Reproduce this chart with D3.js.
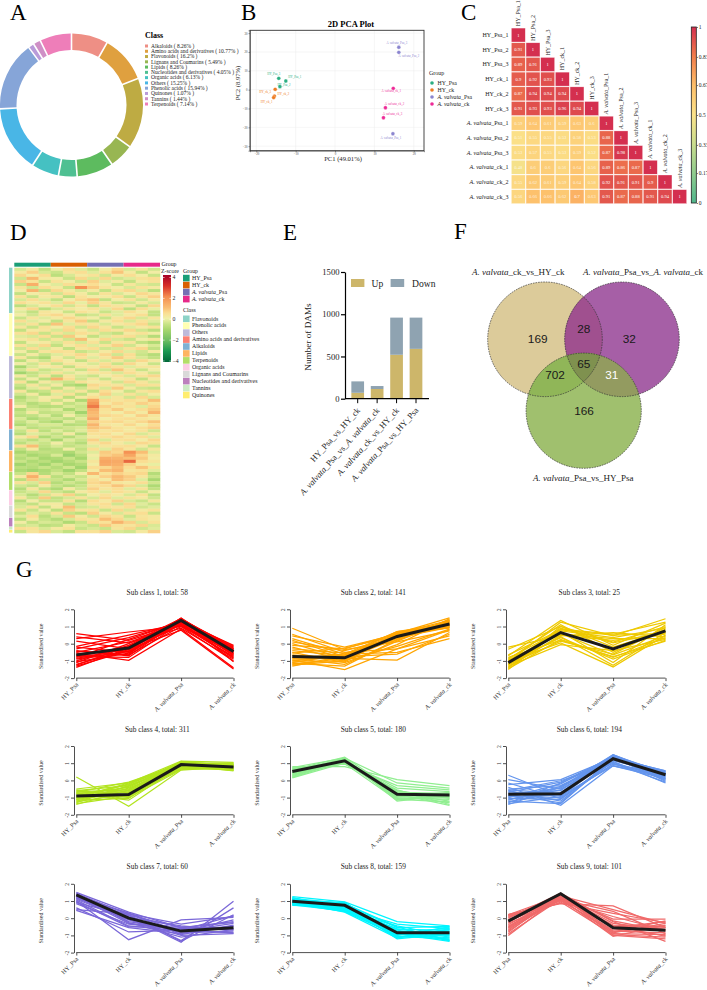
<!DOCTYPE html>
<html>
<head>
<meta charset="utf-8">
<script src="https://cdn.jsdelivr.net/npm/d3@7"></script>
<style>
html,body{margin:0;padding:0;background:#fff}
svg{display:block;font-family:"Liberation Serif",serif}
</style>
</head>
<body>
<svg id="fig" width="707" height="990"></svg>
<script>
// ---- Panel A: metabolite classes ----
const classNames = ["Alkaloids","Amino acids and derivatives","Flavonoids","Lignans and Coumarins","Lipids","Nucleotides and derivatives","Organic acids","Others","Phenolic acids","Quinones","Tannins","Terpenoids"];
const classShares = [8.26,10.77,16.2,5.49,8.26,4.05,6.13,15.25,15.94,1.07,1.44,7.14];
const classColors = ["#EE8F85","#DFA03F","#BEAB43","#98B652","#5DBB5F","#4FC092","#45C1C2","#49B6E6","#86A5D8","#B99BD9","#CF8FC6","#EE7EB9"];

// ---- Panel B: PCA scores ----
const pcaGroups = ["HY_Psa","HY_ck","A. valvata_Psa","A. valvata_ck"];
const pcaColors = ["#2BAE82","#EE7B22","#8B85CF","#EE2A97"];
const pcaIds = ["HY_Psa_3","HY_Psa_1","HY_Psa_2","HY_ck_3","HY_ck_2","HY_ck_1","A. valvata_Psa_3","A. valvata_Psa_2","A. valvata_Psa_1","A. valvata_ck_1","A. valvata_ck_2","A. valvata_ck_3"];
const pcaGroupOf = [0,0,0,1,1,1,2,2,2,3,3,3];
const pc1 = [-14.3,-12.5,-14.0,-15.2,-15.4,-15.6,16.2,16.2,14.7,14.8,12.8,12.3];
const pc2 = [6.0,4.6,1.6,0.2,-3.4,-4.2,22.5,19.8,-23.4,0.7,-9.6,-14.9];

// ---- Panel C: sample correlation (lower triangle) ----
const sampleNames = ["HY_Psa_1","HY_Psa_2","HY_Psa_3","HY_ck_1","HY_ck_2","HY_ck_3","A. valvata_Psa_1","A. valvata_Psa_2","A. valvata_Psa_3","A. valvata_ck_1","A. valvata_ck_2","A. valvata_ck_3"];
const corrRows = [
 [1],
 [0.91,1],
 [0.89,0.91,1],
 [0.9,0.92,0.93,1],
 [0.87,0.94,0.94,0.94,1],
 [0.91,0.93,0.93,0.96,0.94,1],
 [0.59,0.64,0.61,0.59,0.63,0.6,1],
 [0.51,0.55,0.55,0.53,0.58,0.53,0.88,1],
 [0.53,0.57,0.55,0.53,0.59,0.52,0.87,0.98,1],
 [0.48,0.6,0.6,0.56,0.64,0.56,0.89,0.86,0.87,1],
 [0.55,0.62,0.61,0.59,0.64,0.58,0.92,0.91,0.91,0.9,1],
 [0.56,0.66,0.66,0.62,0.7,0.63,0.91,0.87,0.88,0.91,0.94,1]
];
const corrTicks = [0,0.17,0.33,0.5,0.67,0.83,1];

// ---- Panel D: z-scores, one array per metabolite class ----
const heatGroups = ["HY_Psa","HY_ck","A. valvata_Psa","A. valvata_ck"];
const heatGroupColors = ["#1B9E77","#D95F02","#7570B3","#E7298A"];
const heatClassNames = ["Flavonoids","Phenolic acids","Others","Amino acids and derivatives","Alkaloids","Lipids","Terpenoids","Organic acids","Lignans and Coumarins","Nucleotides and derivatives","Tannins","Quinones"];
const heatClassColors = ["#8DD3C7","#FFFFB3","#BEBADA","#FB8072","#80B1D3","#FDB462","#B3DE69","#FCCDE5","#D9D9D9","#BC80BD","#CCEBC5","#FFED6F"];
const heatFlavonoids = [
 [-.3,.2,-.6,.1,.5,-.2,-.5,.1,.6,-.3,.3,-.4],
 [.2,.7,-.3,-.5,.3,.5,-.2,.4,.9,.2,-.6,.1],
 [.6,.1,.5,-.7,-.3,.2,.4,-.4,.2,.5,.1,-.5],
 [-.4,1.1,.2,.1,-.5,.6,-.3,.6,-.4,-.2,.4,.5],
 [.7,.4,-.5,.4,.1,-.4,.7,-.2,.2,-.6,.2,.4],
 [-.5,1.3,.1,-.2,.5,.3,.5,.1,-.5,.3,-.3,-.4],
 [.3,-.4,.5,.2,-.5,1.9,.8,.3,.1,-.3,.4,.2],
 [.1,1.2,-.6,.6,.2,-.3,.2,-.6,.4,.6,-.2,-.7],
 [-.6,.1,.3,-.4,.5,.2,-.5,.4,-.3,.1,.6,.3],
 [.4,-.5,.2,.3,-.7,.4,.1,.2,.5,-.5,.3,.7],
 [-.3,.5,-.2,-.6,.1,.6,.9,-.6,.1,.4,-.4,.2],
 [.5,.2,.4,-.2,.6,-.1,.7,.3,-.5,-.4,.2,-.3],
 [-.7,-.3,.1,.5,-.4,.3,-.6,.5,.3,.2,-.6,.6],
 [.2,.6,-.7,-.3,.3,.1,.4,-.2,.6,-.7,.5,-.1],
 [-.2,-.6,.3,.1,-.5,.4,.2,-.5,-.2,.5,.1,-.6]
];
const heatPhenolic = [
 [.1,-.4,.4,.6,.2,-.6,-.4,.4,-.2,.2,.5,-.6],
 [-.5,.3,-.2,.2,.6,.3,.1,-.5,.3,.6,-.3,.3],
 [.5,-.2,.1,-.6,.3,.8,-.6,.2,.5,-.3,.4,-.2],
 [-.3,.4,-.6,.9,-.2,.4,.3,-.3,.2,.4,.6,-.5],
 [.3,-.5,.4,.1,.5,-.4,.6,.3,-.5,-.2,.2,.4],
 [-.6,.2,.3,-.3,.6,.2,-.3,.5,.3,.6,-.4,-.7],
 [.4,.6,-.5,.4,-.3,.5,.3,-.4,-.6,.2,.4,.1],
 [-.2,-.3,.5,-.5,.8,.1,-.6,-.2,.4,.5,-.3,-.8],
 [.2,.4,-.4,.3,-.4,1.0,.1,.6,-.3,-.5,.1,.3],
 [-.6,.1,.2,-.3,.4,-.3,.4,-.5,.3,.3,-.6,-.9],
 [.4,-.3,.6,-.6,.2,.5,-.2,.3,.7,-.4,.1,-.3],
 [-.4,.5,-.3,.2,-.6,.3,.5,-.4,-.3,.4,.6,-.6],
 [.1,-.6,.3,.5,.4,-.5,-.3,.2,.6,-.2,-.4,.2],
 [-.5,.2,-.5,-.2,.3,.6,.2,.6,-.4,.5,-.5,-.8]
];
const heatOthers = [
 [.3,-.6,-.9,.2,-.4,.4,-.2,.3,.8,.4,-.3,-.6],
 [-.7,.2,-.4,.5,.1,-.6,.4,-.3,.3,-.4,.6,.2],
 [.1,-.4,.4,-.5,.3,.2,-.3,.5,-.5,.6,.1,-.5],
 [-1.0,-.3,.1,.3,-.6,.3,.2,.6,.4,-.2,.3,.3],
 [-.4,.4,-.5,-.3,.2,-.5,.6,-.4,.9,.3,-.5,.1],
 [-1.1,-.6,-.3,.4,-.3,.1,.3,.3,-.3,.5,.2,-.4],
 [.2,-.5,.3,-.7,.3,-.3,-.5,.1,.4,-.3,.4,.6],
 [-.6,.1,-.7,1.2,.5,-.4,.3,-.5,.2,.3,-.6,.2],
 [.4,-.8,.2,-.3,-.5,.4,.1,.3,-.4,.6,.3,-.3],
 [-.5,.3,-.4,.2,-.8,-1.0,.6,.4,.3,-.3,.5,.4],
 [-.8,-.2,.3,-.6,.2,-.4,.4,-.3,.8,.2,-.4,-.5],
 [.3,-.7,-.5,.4,-.3,.3,-.6,.5,.1,-.5,.3,.5],
 [-.4,.2,-.8,-.2,.4,-.6,.2,.7,-.2,.4,-.3,.1],
 [-.9,-.4,.1,.3,-.7,.2,.5,-.2,.3,-.4,.6,-.3]
];
const heatAmino = [
 [-.6,-.3,.2,-.5,.1,-.9,1.5,.5,.3,.5,.3,1.0],
 [-.4,-.8,-.5,.2,-.6,-.3,1.8,.2,.6,.3,.7,.4],
 [.1,-.6,-.8,-.7,-.3,-.5,2.2,.7,.3,.4,-.2,.6],
 [-.8,-.3,-.4,-.2,-.9,-.4,1.3,.4,.8,.2,.5,.8],
 [-.5,.2,-.6,-.5,-.3,-1.1,1.1,.3,.1,.6,.2,1.2],
 [-.7,-.6,-.2,-.8,.1,-.5,1.0,.6,.5,.1,.7,.3],
 [-.3,-.9,-.6,-.4,-.7,-.2,1.4,.1,.4,.5,.3,.2],
 [-.6,-.2,-.7,-1.0,-.2,-.6,.7,.5,.6,.3,.6,.9],
 [-.9,-.5,-.3,-.3,-.8,-.7,1.2,.3,.2,.6,.1,.5],
 [-.2,-.7,-.5,-.6,-.4,-.3,.9,.7,.4,.2,.5,.7]
];
const heatAlkaloids = [
 [-.5,.4,-.7,-.2,-.6,-.2,.6,.3,.5,.2,.4,-.4],
 [-.8,-.2,-.3,-.6,.2,-.8,.4,.5,.1,.6,-.3,.3],
 [.2,.6,-.9,-.4,-.8,-.3,.2,.4,.6,.3,.5,-.2],
 [-.4,-.7,-.3,-1.0,-.2,-.5,.7,-.3,.4,.5,.1,.6],
 [-.7,-.3,-.5,.1,-.5,-.8,.3,.6,.2,-.2,.6,.4],
 [.5,1.0,-.6,-.3,-.6,-.4,-.2,.3,.4,.5,.2,-.5],
 [-.6,.2,-.8,-.7,.1,-.6,.5,-.2,.7,.3,-.4,.3]
];
const heatLipids = [
 [-1.0,-.7,-.6,-.7,-.9,-.4,-.2,.8,.6,1.9,1.0,-.2],
 [-.6,-1.0,-.8,-.3,-1.2,-.7,.1,.7,.9,1.5,.6,.2],
 [-.8,-.5,-1.0,-.9,-.5,-1.0,-.1,1.3,1.2,1.0,.8,.1],
 [-.5,-.9,-.7,-1.1,-.8,-.5,.3,1.5,1.4,2.4,.5,.3],
 [-1.1,-.7,-1.1,-.5,-1.0,-.8,.1,1.4,1.3,.7,.2,-.1],
 [-.7,-.8,-.5,-.8,-.4,-1.1,.5,.6,1.0,.5,.9,.4],
 [-.9,-1.1,-.9,-.6,-1.1,-.6,.2,1.0,1.2,.3,.4,-.2]
];
const heatTerpenoids = [
 [-.5,.6,-.8,-.3,-.6,.1,1.1,.4,.7,.5,.6,-.8],
 [.2,1.3,.4,-.7,-.3,-.5,.2,.7,1.1,.8,.3,-.5],
 [-.7,.8,-.4,-.5,-.9,-.3,.5,.2,1.0,.7,-.2,-1.0],
 [.4,-.3,.7,-.8,-.4,-.7,.6,.8,.3,.2,.5,-.4],
 [-.4,-.6,.2,-.5,-.8,-.5,.4,.5,.9,.6,-.3,-.9],
 [-.8,.3,-.6,-.9,.2,-.4,.7,.3,.5,-.2,.4,-.6]
];
const heatOrganic = [
 [-.5,-.3,.6,-.4,-.7,.2,.4,-.2,.5,.3,-.5,.1],
 [-.3,-.8,-.4,.3,.7,-.5,.1,.4,.2,-.3,.4,-.6],
 [.3,-.5,.8,-.6,-.3,.4,-.3,.6,-.2,.4,.2,-.4],
 [-.8,.1,-.5,-.5,.4,-.8,.5,.2,.7,-.3,-.5,.3],
 [-.4,-.6,.2,.2,-.5,-.3,.3,.5,-.4,.6,-.2,-.5]
];
const heatLignans = [
 [-.3,.4,-.6,.2,1.0,-.4,-.3,.4,.3,.5,-.4,-.2],
 [.4,-.5,.1,-.7,.7,.3,.4,-.5,.6,-.3,.2,.4],
 [-.6,-.2,-.4,.4,-.5,-.7,.7,.2,-.3,.4,.5,-.5],
 [-.2,.5,-.7,-.3,.8,.2,-.4,.6,.4,-.5,.3,.2]
];
const heatNucleotides = [
 [-.7,.2,-.5,-.8,-.3,.4,.3,1.0,.6,-.2,.4,.2],
 [.1,-.6,-.3,-.4,-.9,-.5,.5,.4,1.2,.7,-.3,.4],
 [-.4,-.3,-.7,-.6,.2,-.3,-.5,.8,.4,.3,.6,-.3]
];
const heatTannins = [[.5,.4,-.3,.2,.4,-.5,-.3,-.5,.3,.6,-.4,-.2]];
const heatQuinones = [[-.5,.3,.6,-.3,-.6,.4,.4,.7,-.3,-.4,.2,.7]];
const heatByClass = [heatFlavonoids,heatPhenolic,heatOthers,heatAmino,heatAlkaloids,heatLipids,heatTerpenoids,heatOrganic,heatLignans,heatNucleotides,heatTannins,heatQuinones];
const zTicks = [-4,-2,0,2,4];

// ---- Panel E: differential metabolites ----
const comparisons = ["HY_Psa_vs_HY_ck","A. valvata_Psa_vs_A. valvata_ck","A. valvata_ck_vs_HY_ck","A. valvata_Psa_vs_HY_Psa"];
const damUp = [70,115,520,590];
const damDown = [135,35,440,370];
const damTicks = [0,500,1000,1500];

// ---- Panel F: overlap counts ----
const vennSets = ["A. valvata_ck_vs_HY_ck","A. valvata_Psa_vs_A. valvata_ck","A. valvata_Psa_vs_HY_Psa"];
const vennCounts = [169,32,166,28,702,31,65];

// ---- Panel G: K-means profiles per sub class ----
const profileGroups = ["HY_Psa","HY_ck","A. valvata_Psa","A. valvata_ck"];
const subTotals = [58,141,25,311,180,194,60,159,101];
const subColors = ["#FF0000","#FFA500","#EEC900","#B2E41E","#90EE90","#6495ED","#7A67D8","#00F5FF","#F06A6A"];
const subMeans = [
 [-0.65,-0.25,1.35,-0.45],
 [-0.75,-0.82,0.42,1.15],
 [-1.1,0.65,-0.3,0.75],
 [-0.9,-0.82,0.92,0.78],
 [0.52,1.14,-0.8,-0.85],
 [-0.8,-0.78,1.26,0.33],
 [1.35,0,-0.75,-0.55],
 [0.98,0.75,-0.85,-0.85],
 [-0.17,1.42,-0.55,-0.7]
];
const subClass1 = [
 [0.58,0.2,1.1,-0.6],[0.4,0.05,0.9,-0.9],[0.3,0.68,1.0,-0.5],[0.15,-0.3,0.78,-1.47],[-0.15,0.5,1.2,-0.3],[-0.2,-0.5,1.3,-0.1],
 [-0.3,0.35,1.25,-0.2],[-0.4,-0.7,1.4,-0.4],[-0.5,0.1,1.05,-0.75],[-0.55,-0.97,0.85,-1.4],[-0.65,-0.2,1.45,-0.25],[-0.7,-0.6,1.5,-0.5],
 [-0.8,0.25,1.3,-0.35],[-0.85,-0.3,1.35,-0.7],[-0.9,-0.45,1.15,-0.6],[-1.0,-0.1,1.4,-0.15],[-1.05,-0.55,1.25,-0.55],[-1.1,0,1.45,-0.3],
 [-1.2,-0.35,1.3,-0.65],[-1.25,-0.15,1.35,-0.45],[-1.3,-0.4,1.1,-0.85],[-1.38,-0.25,1.48,-1.05],[-0.75,-0.8,1.2,-0.8],[-0.45,-0.65,1.0,-1.0]
];
const subClass2 = [
 [0.9,-0.35,0.1,0.75],[0.55,-0.5,-0.3,0.45],[0.45,-0.2,0.55,1.2],[0.3,-0.6,-0.5,0.3],[0.2,-0.75,-0.6,0.55],[0.1,-0.4,0.35,0.95],
 [0,-0.85,-0.95,0.65],[-0.1,-0.3,0.6,1.1],[-0.2,-0.95,-0.15,0.85],[-0.3,-0.55,0.2,1.3],[-0.4,-0.7,0.7,1.05],[-0.5,-1.1,-0.05,1.45],
 [-0.55,-0.25,0.45,1.0],[-0.65,-0.9,0.3,1.25],[-0.7,-1.0,0.65,0.9],[-0.8,-0.65,0.5,1.15],[-0.85,-1.2,0.15,1.35],[-0.9,-0.8,0.6,1.5],
 [-0.95,-1.5,-0.3,0.8],[-1.0,-0.75,0.4,1.3],[-1.05,-1.05,0.55,1.1],[-1.1,-0.6,0.7,1.2],[-1.15,-1.3,0.25,1.4],[-1.2,-0.85,0.45,0.95],[-1.25,-1.0,0.6,1.35],[-1.3,-0.7,0.35,1.0]
];
const subClass3 = [
 [-0.2,0.45,0.65,0.4],[-0.32,1.0,0.1,1.0],[-0.65,0.8,0.5,0.6],[-0.7,1.35,-0.1,1.2],[-0.8,0.2,-0.75,0.15],[-0.9,1.1,-0.5,0.85],
 [-0.95,0.55,0.3,0.3],[-1.0,0.05,-1.35,0.5],[-1.05,1.25,0.45,1.45],[-1.1,0.35,-0.9,0.2],[-1.15,0.9,0.05,0.7],[-1.2,0.15,-0.6,0.95],
 [-1.25,0.7,-1.1,1.1],[-1.3,-0.05,-0.4,0.25],[-1.35,0.5,0.2,0.55],[-1.4,1.0,-0.2,0.75],[-1.45,0.25,-0.8,0.35],[-1.5,0.85,0.55,1.25],
 [-1.0,0.6,-0.65,0.45],[-1.22,0.4,-1.25,0.65],[-0.85,0.75,0.35,0.9]
];
const subClass4 = [
 [0.2,-1.5,0.6,0.8],[-0.5,-0.15,1.12,1.05],[-0.6,-0.3,0.8,0.65],[-0.65,-0.55,1.05,0.9],[-0.7,-0.1,0.95,0.75],[-0.75,-1.15,0.85,0.6],
 [-0.8,-0.4,1.0,1.0],[-0.85,-0.7,0.7,0.7],[-0.9,-0.25,1.08,0.85],[-0.95,-0.95,0.9,0.55],[-1.0,-0.5,0.75,0.95],[-1.02,-0.2,1.0,0.8],
 [-1.05,-0.8,0.65,0.65],[-1.1,-0.35,1.05,0.9],[-1.12,-0.6,0.85,0.75],[-1.15,-1.05,0.95,0.6],[-1.2,-0.45,0.8,1.0],[-1.25,-0.75,1.1,0.7],
 [-1.3,-0.3,0.9,0.85],[-1.35,-0.9,0.7,0.8],[-1.4,-0.55,1.0,0.65],[-0.55,-1.0,0.62,0.9],[-0.72,-0.65,0.78,0.58],[-0.98,-0.15,0.88,0.95]
];
const subClass5 = [
 [0.8,0.8,0.05,-0.3],[0.75,1.3,-0.15,-0.45],[0.72,0.95,-0.3,-0.55],[0.68,1.1,-0.45,-0.65],[0.62,1.35,-0.7,-0.75],[0.58,1.0,-0.55,-1.4],
 [0.55,1.2,-0.9,-0.9],[0.5,1.28,-1.05,-1.0],[0.46,1.1,-0.75,-1.2],[0.42,0.98,-1.15,-0.8],[0.38,1.25,-0.85,-1.3],[0.34,1.15,-0.65,-0.95],
 [0.3,1.05,-1.0,-1.1],[0.26,1.3,-1.2,-0.85],[0.22,1.18,-0.8,-1.45],[0.18,1.12,-0.95,-0.7],[0.15,1.02,-0.6,-1.05],[0.6,1.22,-1.1,-1.25]
];
const subClass6 = [
 [0.3,-0.9,0.85,0.2],[0.05,-0.5,1.0,-0.1],[-0.15,-1.05,0.95,0.4],[-0.25,0.05,1.3,0.55],[-0.4,-1.45,0.85,0.1],[-0.5,-0.3,1.2,0.3],
 [-0.55,-0.75,1.45,0.45],[-0.62,-1.2,1.1,-0.15],[-0.7,-0.1,1.35,0.5],[-0.75,-0.6,1.5,0.25],[-0.82,-1.3,1.25,0.35],[-0.88,-0.45,1.4,0.15],
 [-0.95,-0.85,1.3,0.55],[-1.0,-0.2,1.42,0.05],[-1.05,-1.1,1.15,0.4],[-1.1,-0.55,1.38,0.2],[-1.15,-0.35,1.25,0.5],[-1.2,-1.35,1.32,0],
 [-1.25,-0.7,1.45,0.3],[-1.3,-0.15,1.2,0.45],[-1.35,-0.95,1.35,-0.05],[-1.4,-0.4,1.5,0.35],[-0.6,-0.02,1.05,0.1],[-0.9,-1.0,0.95,0.28]
];
const subClass7 = [
 [1.5,0.35,-0.55,-0.2],[1.45,0.2,-1.35,0.2],[1.4,-0.2,-0.7,-0.85],[1.35,0.28,-0.95,-0.4],[1.3,0.1,-1.4,0.98],[1.25,-0.3,-0.6,-0.5],
 [1.2,0.3,-0.8,-0.1],[1.15,0.05,-0.45,-0.7],[1.1,-0.1,-1.0,-0.9],[1.05,-0.45,-0.75,-0.3],[1.0,-1.25,-0.1,0.05],[0.95,-0.5,-0.5,-0.6],
 [0.9,0.15,-1.3,0.6],[0.85,-0.35,-0.65,-0.85],[0.6,-0.8,-0.7,0.15],[0.5,0.25,-0.35,0.1],[0.45,-0.55,-0.9,-0.45],[1.28,-0.05,-0.85,-0.75],
 [1.18,0.18,-0.55,-0.25],[1.38,-0.25,-1.1,-0.65]
];
const subClass8 = [
 [1.25,0.95,-0.2,-0.45],[1.2,0.55,-0.35,-0.6],[1.15,0.85,-0.5,-1.3],[1.12,0.65,-0.65,-0.7],[1.08,0.4,-0.8,-1.0],[1.05,0.9,-0.95,-0.55],
 [1.02,0.5,-1.05,-1.2],[1.0,0.75,-0.75,-0.85],[0.97,0.35,-1.15,-0.65],[0.94,0.6,-0.9,-1.35],[0.92,0.8,-1.2,-0.9],[0.89,0.45,-0.6,-1.1],
 [0.86,0.7,-0.85,-0.75],[0.84,0.38,-1.0,-0.5],[0.82,0.58,-0.7,-1.25],[0.8,0.92,-1.1,-0.95],[0.77,0.42,-0.45,-1.05],[0.75,0.68,-0.98,-0.8],
 [1.1,0.52,-0.88,-1.15],[0.95,0.82,-0.55,-0.48],[1.18,0.62,-1.12,-0.62],[0.87,0.48,-0.78,-1.3]
];
const subClass9 = [
 [0.22,0.85,0.72,-0.55],[0.2,1.3,0.5,-0.3],[0.15,1.1,0.4,-0.9],[0.1,0.88,0.28,-0.25],[0.05,1.25,-0.05,-0.05],[0,1.45,-0.2,-1.35],
 [-0.08,1.2,-0.4,-0.5],[-0.15,1.02,-0.75,-0.85],[-0.22,1.38,-0.55,-0.2],[-0.3,0.95,-0.95,-1.1],[-0.38,1.3,-0.3,-0.65],[-0.45,1.15,-1.05,-0.4],
 [-0.52,1.42,-0.6,-1.0],[-0.6,1.08,-0.85,-0.3],[-0.68,1.35,-0.15,-0.75],[-0.75,1.22,-0.7,-0.55],[-0.82,1.42,-1.0,-1.2],[-0.9,1.12,-0.5,-0.45],
 [-1.0,1.28,-0.9,-0.95],[0.18,1.0,0.1,-0.7],[-0.25,1.4,-0.8,-0.15],[-0.55,1.18,-0.45,-1.05]
];
const subClasses = [subClass1,subClass2,subClass3,subClass4,subClass5,subClass6,subClass7,subClass8,subClass9];

// ---- Shared helpers ----
const svg = d3.select("#fig");
const defs = svg.append("defs");
const INK = "#1a1a1a";

// Writes text with the genus abbreviation set in italics.
function richText(sel, str) {
  sel.selectAll("tspan").remove();
  const parts = str.split(/(A\. valvata)/).filter(Boolean);
  parts.forEach(p => sel.append("tspan").attr("font-style", p === "A. valvata" ? "italic" : "normal").text(p));
  return sel;
}
function panelLetter(t, x, y) {
  svg.append("text").attr("x", x).attr("y", y).attr("font-size", 23).attr("fill", "#000").text(t);
}
function styleAxis(g, width, color) {
  g.selectAll("path.domain").attr("stroke", color).attr("stroke-width", width);
  g.selectAll(".tick line").attr("stroke", color).attr("stroke-width", width);
  g.attr("font-family", '"Liberation Serif",serif');
}
function gradientFrom(id, stops, scale) {
  const gr = defs.append("linearGradient").attr("id", id).attr("x1", 0).attr("x2", 0).attr("y1", 1).attr("y2", 0);
  stops.forEach((v, i) => gr.append("stop").attr("offset", i / (stops.length - 1)).attr("stop-color", scale(v)));
}

panelLetter("A", 10, 20);
panelLetter("B", 241, 20);
panelLetter("C", 461, 20);
panelLetter("D", 10, 240);
panelLetter("E", 283, 240);
panelLetter("F", 454, 239);
panelLetter("G", 16, 577);

// ---- A: ring chart ----
(function () {
  const g = svg.append("g").attr("transform", "translate(71.5,105)");
  const pie = d3.pie().sort(null).padAngle(0.018);
  const arc = d3.arc().innerRadius(55).outerRadius(71.5);
  g.selectAll("path").data(pie(classShares)).join("path")
    .attr("d", arc).attr("fill", (d, i) => classColors[i]);
  svg.append("text").attr("x", 145).attr("y", 38).attr("font-size", 8).attr("font-weight", "bold").text("Class");
  const rowY = d3.scalePoint().domain(d3.range(classNames.length)).range([46, 104]);
  const rows = svg.append("g").selectAll("g").data(classNames).join("g")
    .attr("transform", (d, i) => `translate(145,${rowY(i)})`);
  rows.append("rect").attr("x", 0).attr("y", -1.5).attr("width", 3).attr("height", 3).attr("fill", (d, i) => classColors[i]);
  rows.append("text").attr("x", 6).attr("y", 1.8).attr("font-size", 5.5).attr("fill", "#222")
    .text((d, i) => `${d} ( ${classShares[i]}% )`);
})();

// ---- B: PCA scatter ----
(function () {
  const x = d3.scaleLinear().domain([-21.6, 22.6]).range([250, 424]);
  const y = d3.scaleLinear().domain([-32.4, 31.5]).range([150.7, 30.3]);
  const xt = [-20, -10, 0, 10, 20], yt = [-30, -20, -10, 0, 10, 20, 30];
  const grid = svg.append("g").attr("stroke", "#EDEDED").attr("stroke-width", 0.5);
  xt.forEach(v => grid.append("line").attr("x1", x(v)).attr("x2", x(v)).attr("y1", 30.3).attr("y2", 150.7));
  yt.forEach(v => grid.append("line").attr("y1", y(v)).attr("y2", y(v)).attr("x1", 250).attr("x2", 424));
  const ax = svg.append("g").attr("transform", "translate(0,150.7)")
    .call(d3.axisBottom(x).tickValues(xt).tickSize(1.5).tickPadding(1));
  styleAxis(ax, 0.5, "#333"); ax.selectAll("text").attr("font-size", 3).attr("fill", "#444");
  const ay = svg.append("g").attr("transform", "translate(250,0)")
    .call(d3.axisLeft(y).tickValues(yt).tickSize(1.5).tickPadding(1));
  styleAxis(ay, 0.5, "#333"); ay.selectAll("text").attr("font-size", 3).attr("fill", "#444");
  svg.append("rect").attr("x", 250).attr("y", 30.3).attr("width", 174).attr("height", 120.4)
    .attr("fill", "none").attr("stroke", "#333").attr("stroke-width", 0.9);
  svg.append("text").attr("x", 351).attr("y", 27).attr("text-anchor", "middle").attr("font-size", 8.5).attr("font-weight", "bold").text("2D PCA Plot");
  svg.append("text").attr("x", 343).attr("y", 161).attr("text-anchor", "middle").attr("font-size", 6.6).attr("fill", "#222").text("PC1 (49.01%)");
  svg.append("text").attr("transform", "translate(240,83) rotate(-90)").attr("text-anchor", "middle").attr("font-size", 6.6).attr("fill", "#222").text("PC2 (8.97%)");

  const nudgeX = [-5, 9, 4, -10, 9, -7, -2, 10, -2, -2, 9, 9];
  const nudgeY = [-4, -4, -2, 3, -2, 4, -4, 4, 4, 3, -4, -4];
  const pts = svg.append("g");
  pcaIds.forEach((id, i) => {
    pts.append("circle").attr("cx", x(pc1[i])).attr("cy", y(pc2[i])).attr("r", 1.9)
      .attr("fill", pcaColors[pcaGroupOf[i]]).attr("stroke", "#fff").attr("stroke-width", 0.3);
    pts.append("text").attr("x", x(pc1[i]) + nudgeX[i]).attr("y", y(pc2[i]) + nudgeY[i] + 1)
      .attr("text-anchor", "middle").attr("font-size", 3).attr("fill", pcaColors[pcaGroupOf[i]])
      .call(richText, id);
  });
  svg.append("text").attr("x", 429).attr("y", 75).attr("font-size", 6).attr("fill", "#222").text("Group");
  const lyY = d3.scalePoint().domain(pcaGroups).range([83, 104]);
  pcaGroups.forEach((name, i) => {
    svg.append("circle").attr("cx", 432).attr("cy", lyY(name)).attr("r", 1.8).attr("fill", pcaColors[i]);
    svg.append("text").attr("x", 437.5).attr("y", lyY(name) + 2).attr("font-size", 5.8).attr("fill", "#222").call(richText, name);
  });
})();

// ---- C: correlation triangle ----
(function () {
  const band = d3.scaleBand().domain(sampleNames).range([511, 687]);
  const bandY = d3.scaleBand().domain(sampleNames).range([27.7, 204]);
  const stops = [0, 0.17, 0.33, 0.5, 0.67, 0.83, 1];
  const color = d3.scaleLinear().domain(stops)
    .range(["#4FB68C", "#8FCB8E", "#C9DD8E", "#FBE28A", "#FDBF6A", "#F17C4B", "#D42F4F"]);
  const g = svg.append("g");
  corrRows.forEach((row, r) => row.forEach((v, c) => {
    const cx = band(sampleNames[c]), cy = bandY(sampleNames[r]);
    g.append("rect").attr("x", cx + 0.4).attr("y", cy + 0.4)
      .attr("width", band.bandwidth() - 0.8).attr("height", bandY.bandwidth() - 0.8)
      .attr("fill", color(v)).attr("stroke", "#fff").attr("stroke-opacity", 0.55).attr("stroke-width", 0.5);
    g.append("text").attr("x", cx + band.bandwidth() / 2).attr("y", cy + bandY.bandwidth() / 2 + 1.6)
      .attr("text-anchor", "middle").attr("font-size", 4.6).attr("fill", "#fff").attr("fill-opacity", v < 0.7 ? 0.75 : 1).text(v);
  }));
  sampleNames.forEach((name, i) => {
    svg.append("text").attr("x", 508.5).attr("y", bandY(name) + bandY.bandwidth() / 2 + 2)
      .attr("text-anchor", "end").attr("font-size", 6).attr("fill", "#222").call(richText, name);
    svg.append("text").attr("transform", `translate(${band(name) + band.bandwidth() / 2 + 2},${bandY(name) - 1.5}) rotate(-90)`)
      .attr("font-size", 6).attr("fill", "#222").call(richText, name);
  });
  gradientFrom("corrGrad", stops, color);
  svg.append("rect").attr("x", 691.3).attr("y", 27).attr("width", 5).attr("height", 176)
    .attr("fill", "url(#corrGrad)").attr("stroke", "#222").attr("stroke-width", 0.8);
  const cb = d3.scaleLinear().domain([0, 1]).range([203, 27]);
  const a = svg.append("g").attr("transform", "translate(696.8,0)")
    .call(d3.axisRight(cb).tickValues(corrTicks).tickSize(1.2).tickPadding(0.8).tickFormat(d3.format("~g")));
  a.select("path.domain").remove();
  styleAxis(a, 0.6, "#222"); a.selectAll("text").attr("font-size", 5.5).attr("fill", "#222");
})();

// ---- D: clustered heat map ----
(function () {
  const rows = heatByClass.flat();
  const rowY = d3.scaleBand().domain(d3.range(rows.length)).range([267.7, 533]);
  const colX = d3.scaleBand().domain(d3.range(12)).range([14.3, 160]);
  const zStops = [-4, -3, -2, -1, -0.5, 0, 0.5, 1, 2, 3, 4];
  const color = d3.scaleLinear().domain(zStops)
    .range(["#006837", "#1A9850", "#6FBE63", "#A9D76F", "#C9E487", "#F0F0A8", "#FADE93", "#F9BE74", "#F48D50", "#D73027", "#A50026"]);
  const g = svg.append("g");
  rows.forEach((row, r) => row.forEach((v, c) => {
    g.append("rect").attr("x", colX(c)).attr("y", rowY(r))
      .attr("width", colX.bandwidth() + 0.3).attr("height", rowY.bandwidth() + 0.3).attr("fill", color(v));
  }));
  // column annotation strip
  heatGroups.forEach((name, i) => {
    svg.append("rect").attr("x", colX(i * 3)).attr("y", 262.7)
      .attr("width", colX.bandwidth() * 3).attr("height", 4).attr("fill", heatGroupColors[i]);
  });
  // row annotation strip
  let start = 0;
  heatByClass.forEach((arr, i) => {
    svg.append("rect").attr("x", 9).attr("y", rowY(start))
      .attr("width", 3.4).attr("height", rowY.bandwidth() * arr.length - 0.4).attr("fill", heatClassColors[i]);
    start += arr.length;
  });
  const txt = (x, y, s) => svg.append("text").attr("x", x).attr("y", y).attr("font-size", 5.9).attr("fill", "#222").call(richText, s);
  txt(161.5, 266, "Group");
  txt(161, 273, "Z-score");
  txt(183, 273, "Group");
  gradientFrom("zGrad", d3.range(-4, 4.01, 0.25), color);
  svg.append("rect").attr("x", 163).attr("y", 275).attr("width", 8).attr("height", 87).attr("fill", "url(#zGrad)");
  const zs = d3.scaleLinear().domain([-4, 4]).range([360.5, 277]);
  const za = svg.append("g").attr("transform", "translate(171,0)")
    .call(d3.axisRight(zs).tickValues(zTicks).tickSize(0).tickPadding(1.5));
  za.select("path.domain").remove();
  za.selectAll("text").attr("font-size", 5.8).attr("fill", "#222").attr("font-family", '"Liberation Serif",serif');
  za.selectAll(".tick").append("line").attr("x1", -8).attr("x2", -6.4).attr("stroke", "#fff").attr("stroke-width", 0.6);
  za.selectAll(".tick").append("line").attr("x1", -1.6).attr("x2", 0).attr("stroke", "#fff").attr("stroke-width", 0.6);
  heatGroups.forEach((name, i) => {
    const cy = 278 + i * 7;
    svg.append("rect").attr("x", 183).attr("y", cy - 3.2).attr("width", 6.6).attr("height", 6.6).attr("fill", heatGroupColors[i]);
    txt(192, cy + 1.8, name);
  });
  txt(183, 312, "Class");
  heatClassNames.forEach((name, i) => {
    const cy = 318.7 + i * 6.93;
    svg.append("rect").attr("x", 183).attr("y", cy - 3.2).attr("width", 6.6).attr("height", 6.6).attr("fill", heatClassColors[i]);
    txt(192, cy + 1.8, name);
  });
})();

// ---- E: stacked bars ----
(function () {
  const x = d3.scalePoint().domain(comparisons).range([357.7, 416]);
  const y = d3.scaleLinear().domain([0, 1500]).range([398.7, 272]);
  const barW = 12.7;
  const g = svg.append("g");
  comparisons.forEach((c, i) => {
    g.append("rect").attr("x", x(c) - barW / 2).attr("y", y(damUp[i])).attr("width", barW)
      .attr("height", y(0) - y(damUp[i])).attr("fill", "#CDB66A");
    g.append("rect").attr("x", x(c) - barW / 2).attr("y", y(damUp[i] + damDown[i])).attr("width", barW)
      .attr("height", y(damUp[i]) - y(damUp[i] + damDown[i])).attr("fill", "#8FA3B1");
  });
  const ay = svg.append("g").attr("transform", "translate(345,0)")
    .call(d3.axisLeft(y).tickValues(damTicks).tickFormat(d3.format("d")).tickSize(4).tickSizeOuter(0).tickPadding(1.5));
  styleAxis(ay, 1.2, "#000");
  ay.selectAll("text").attr("font-size", 8.6).attr("fill", "#222");
  svg.append("line").attr("x1", 345).attr("x2", 429).attr("y1", y(0)).attr("y2", y(0)).attr("stroke", "#000").attr("stroke-width", 1.2);
  comparisons.forEach(c => {
    svg.append("line").attr("x1", x(c)).attr("x2", x(c)).attr("y1", y(0)).attr("y2", y(0) + 4.5).attr("stroke", "#000").attr("stroke-width", 1);
    svg.append("text").attr("transform", `translate(${x(c) + 3},${y(0) + 12}) rotate(-48)`)
      .attr("text-anchor", "end").attr("font-size", 8.6).attr("fill", "#222").call(richText, c);
  });
  svg.append("text").attr("transform", "translate(311,337) rotate(-90)").attr("text-anchor", "middle")
    .attr("font-size", 9.2).attr("fill", "#222").text("Number of DAMs");
  svg.append("rect").attr("x", 351).attr("y", 279).attr("width", 13.4).attr("height", 8).attr("fill", "#CDB66A");
  svg.append("text").attr("x", 371.5).attr("y", 286.5).attr("font-size", 9.6).attr("fill", "#222").text("Up");
  svg.append("rect").attr("x", 390.6).attr("y", 279).attr("width", 13.6).attr("height", 8).attr("fill", "#8FA3B1");
  svg.append("text").attr("x", 412).attr("y", 286.5).attr("font-size", 9.6).attr("fill", "#222").text("Down");
})();

// ---- F: three-way overlap ----
(function () {
  const circles = [
    { cx: 545, cy: 339.3, r: 57.3, fill: "#DCCB9A", id: "vA" },
    { cx: 622, cy: 339.3, r: 57.3, fill: "#A65FA6", id: "vB" },
    { cx: 583.7, cy: 410.7, r: 57.6, fill: "#A0C06E", id: "vC" }
  ];
  circles.forEach(c => {
    defs.append("clipPath").attr("id", c.id).append("circle").attr("cx", c.cx).attr("cy", c.cy).attr("r", c.r);
    svg.append("circle").attr("cx", c.cx).attr("cy", c.cy).attr("r", c.r).attr("fill", c.fill);
  });
  const lens = (a, b, fill) => {
    const outer = svg.append("g").attr("clip-path", `url(#${a.id})`);
    outer.append("circle").attr("cx", b.cx).attr("cy", b.cy).attr("r", b.r).attr("fill", fill);
    return outer;
  };
  lens(circles[0], circles[1], "#A0508F");
  lens(circles[0], circles[2], "#90B658");
  lens(circles[1], circles[2], "#939B60");
  const triple = svg.append("g").attr("clip-path", "url(#vA)").append("g").attr("clip-path", "url(#vB)");
  triple.append("circle").attr("cx", circles[2].cx).attr("cy", circles[2].cy).attr("r", circles[2].r).attr("fill", "#7F914F");
  circles.forEach(c => svg.append("circle").attr("cx", c.cx).attr("cy", c.cy).attr("r", c.r)
    .attr("fill", "none").attr("stroke", "#333").attr("stroke-width", 0.7).attr("stroke-dasharray", "1.6 1"));
  const lbl = [[472, 275], [583, 275], [533, 481]];
  vennSets.forEach((s, i) => svg.append("text").attr("x", lbl[i][0]).attr("y", lbl[i][1]).attr("font-size", 9).attr("fill", "#222").call(richText, s));
  const spots = [[537.7, 339.3], [629.3, 339.3], [584, 411], [583.7, 329.3], [555, 375], [611.7, 375], [583.7, 363.7]];
  vennCounts.forEach((n, i) => svg.append("text").attr("x", spots[i][0]).attr("y", spots[i][1] + 4)
    .attr("text-anchor", "middle").attr("font-family", '"Liberation Sans",sans-serif').attr("font-size", 11.8)
    .attr("fill", n === 31 ? "#fff" : "#1a1a1a").text(n));
})();

// ---- G: nine sub-class profile panels ----
(function () {
  const colLeft = [76.3, 292.3, 508.3];
  const rowTop = [609.3, 746, 883.8];
  subClasses.forEach((lines, i) => {
    const col = i % 3, row = Math.floor(i / 3);
    const x = d3.scalePoint().domain(profileGroups).range([colLeft[col], colLeft[col] + 157.2]);
    const y = d3.scaleLinear().domain([-2, 2]).range([rowTop[row] + 68.8, rowTop[row]]);
    const line = d3.line().x((d, k) => x(profileGroups[k])).y(d => y(d));
    const g = svg.append("g");
    g.selectAll("path.member").data(lines).join("path").attr("class", "member")
      .attr("d", line).attr("fill", "none").attr("stroke", subColors[i]).attr("stroke-width", 1.25);
    g.append("path").attr("d", line(subMeans[i])).attr("fill", "none").attr("stroke", INK).attr("stroke-width", 3);
    const ax = svg.append("g").attr("transform", `translate(0,${rowTop[row] + 68.8})`)
      .call(d3.axisBottom(x).tickSize(3).tickSizeOuter(0));
    ax.selectAll("path.domain").attr("d", `M${colLeft[col]},0H${colLeft[col] + 157.2}`);
    styleAxis(ax, 0.8, "#222");
    ax.selectAll(".tick text").attr("x", 0).attr("y", 0).attr("dy", 0)
      .attr("transform", "translate(2,7) rotate(-45)").attr("text-anchor", "end")
      .attr("font-size", 6.4).attr("fill", "#333")
      .each(function (d) { const t = d3.select(this); t.text(null); richText(t, d); });
    const ay = svg.append("g").attr("transform", `translate(${colLeft[col] - 2.3},0)`)
      .call(d3.axisLeft(y).tickValues([-2, -1, 0, 1, 2]).tickFormat(d => String(d)).tickSize(3).tickSizeOuter(0));
    styleAxis(ay, 0.8, "#222");
    ay.selectAll(".tick text").attr("x", 0).attr("y", 0).attr("dy", 0)
      .attr("transform", "translate(-5,0) rotate(-90)").attr("text-anchor", "middle")
      .attr("font-size", 5.6).attr("fill", "#333");
    svg.append("text").attr("transform", `translate(${colLeft[col] - 33},${rowTop[row] + 37}) rotate(-90)`)
      .attr("text-anchor", "middle").attr("font-size", 6).attr("fill", "#333").text("Standardised value");
    svg.append("text").attr("x", colLeft[col] + 81).attr("y", rowTop[row] - 14.5).attr("text-anchor", "middle")
      .attr("font-size", 7.4).attr("fill", "#222").text(`Sub class ${i + 1}, total: ${subTotals[i]}`);
  });
})();
</script>
</body>
</html>
